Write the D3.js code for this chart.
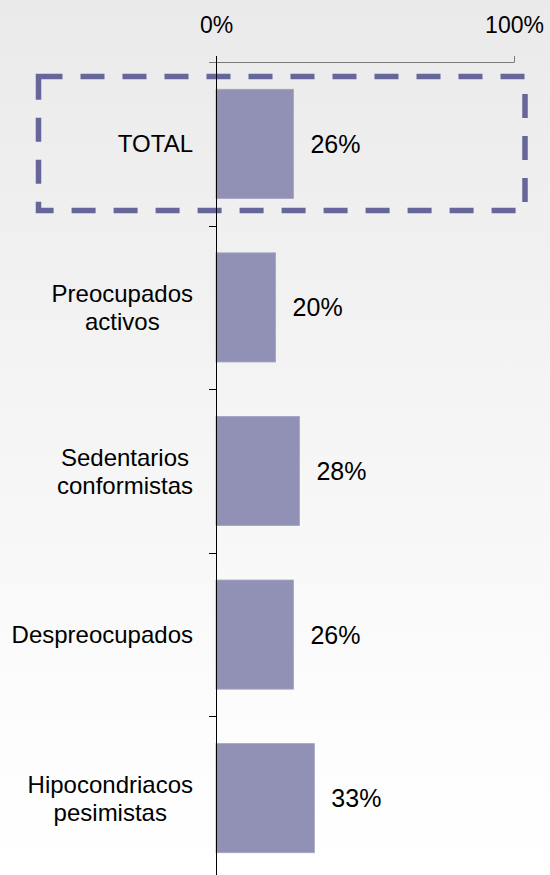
<!DOCTYPE html>
<html>
<head>
<meta charset="utf-8">
<script src="https://cdn.jsdelivr.net/npm/d3@7"></script>
<style>
  html, body { margin: 0; padding: 0; }
  body { width: 550px; height: 875px; overflow: hidden; }
  text { font-family: Arial, "Liberation Sans", sans-serif; fill: #000; }
</style>
</head>
<body>
<div id="chart"></div>
<script>
// chart data
const categories = ["TOTAL", "Preocupados activos", "Sedentarios conformistas", "Despreocupados", "Hipocondriacos pesimistas"];
const labelLines = [["TOTAL"], ["Preocupados", "activos"], ["Sedentarios", "conformistas"], ["Despreocupados"], ["Hipocondriacos", "pesimistas"]];
const values = [0.26, 0.20, 0.28, 0.26, 0.33];
const tickValues = [0, 1];
const highlighted = "TOTAL";

const W = 550, H = 875;

const svg = d3.select("#chart").append("svg")
    .attr("width", W)
    .attr("height", H);

// background gradient, light grey at top fading to white
const grad = svg.append("defs").append("linearGradient")
    .attr("id", "bg")
    .attr("x1", 0).attr("y1", 0).attr("x2", 0).attr("y2", 1);
grad.append("stop").attr("offset", "0%").attr("stop-color", "#eaeaea");
grad.append("stop").attr("offset", "85%").attr("stop-color", "#fdfdfd");
grad.append("stop").attr("offset", "100%").attr("stop-color", "#ffffff");
svg.append("rect").attr("width", W).attr("height", H).attr("fill", "url(#bg)");

// scales
const x = d3.scaleLinear().domain([0, 1]).range([216, 514]);
const y = d3.scaleBand()
    .domain(categories)
    .range([62, 880])
    .paddingInner(0.333)
    .paddingOuter(0.1667);

const step = y.step();
const gap = (step - y.bandwidth()) / 2;

// dashed box round the highlighted row
svg.append("rect")
    .attr("x", 38.5)
    .attr("y", y(highlighted) - gap + 14.5)
    .attr("width", x(1) + 11 - 38.5)
    .attr("height", step - 29.5)
    .attr("fill", "none")
    .attr("stroke", "#66669a")
    .attr("stroke-width", 5.5)
    .attr("stroke-dasharray", "24 18");

// bars
svg.selectAll(".bar")
    .data(values)
    .enter()
    .append("rect")
    .attr("class", "bar")
    .attr("x", x(0))
    .attr("y", (d, i) => y(categories[i]))
    .attr("width", d => x(d) - x(0))
    .attr("height", y.bandwidth())
    .attr("fill", "#9191b5")
    .attr("stroke", "#a3a3c4")
    .attr("stroke-width", 0.8);

// top axis
const xAxis = d3.axisTop(x)
    .tickValues(tickValues)
    .tickFormat(d3.format(".0%"))
    .tickSizeInner(6)
    .tickSizeOuter(0);

const gx = svg.append("g")
    .attr("transform", `translate(0, 62)`)
    .call(xAxis);
gx.select(".domain")
    .attr("d", `M${x(0) - 7},0.5H${x(1) + 0.5}`)
    .attr("stroke", "#7a7a7a");
gx.selectAll(".tick line").attr("stroke", "#7a7a7a");
gx.selectAll(".tick text")
    .attr("y", -29)
    .attr("dy", 0)
    .style("font-size", "23px")
    .style("font-family", "Arial, 'Liberation Sans', sans-serif")
    .attr("fill", "#000");

// vertical axis with ticks between categories
svg.append("line")
    .attr("x1", x(0) + 0.5).attr("x2", x(0) + 0.5)
    .attr("y1", 56).attr("y2", H)
    .attr("stroke", "#000");

svg.selectAll(".ytick")
    .data(categories.slice(1))
    .enter()
    .append("line")
    .attr("class", "ytick")
    .attr("x1", x(0) - 7).attr("x2", x(0))
    .attr("y1", d => Math.round(y(d) - gap) + 0.5)
    .attr("y2", d => Math.round(y(d) - gap) + 0.5)
    .attr("stroke", "#000");

// category labels, lines centred within a block that is right aligned
const lineH = 28;
categories.forEach((cat, i) => {
    const lines = labelLines[i];
    const cy = y(cat) + y.bandwidth() / 2;
    const g = svg.append("g");
    const texts = g.selectAll("text")
        .data(lines)
        .enter()
        .append("text")
        .attr("x", 0)
        .attr("y", (d, j) => cy + 8.5 + (j - (lines.length - 1) / 2) * lineH)
        .attr("text-anchor", "middle")
        .style("font-size", "24px")
        .text(d => d);
    let maxW = 0;
    texts.each(function () { maxW = Math.max(maxW, this.getComputedTextLength()); });
    g.attr("transform", `translate(${193 - maxW / 2}, 0)`);
});

// value labels
svg.selectAll(".value")
    .data(values)
    .enter()
    .append("text")
    .attr("class", "value")
    .attr("x", d => x(d) + 17)
    .attr("y", (d, i) => y(categories[i]) + y.bandwidth() / 2 + 9)
    .style("font-size", "25px")
    .text(d => d3.format(".0%")(d));
</script>
</body>
</html>
